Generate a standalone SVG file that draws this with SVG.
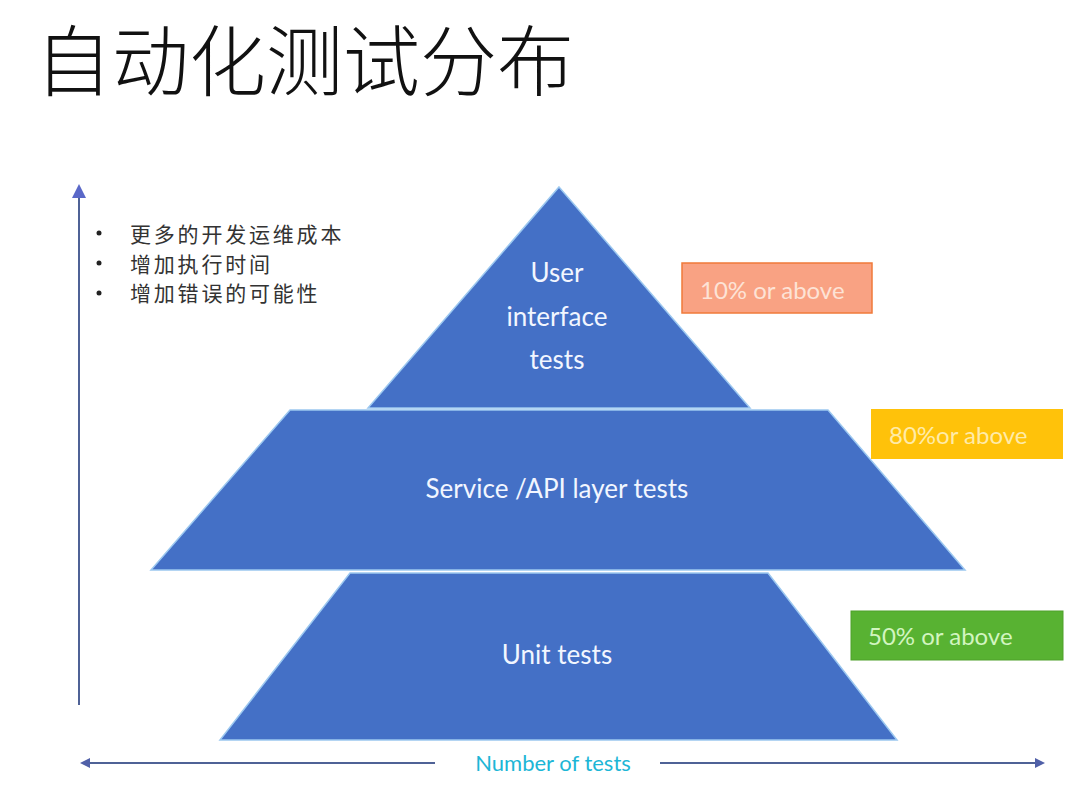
<svg xmlns="http://www.w3.org/2000/svg" width="1080" height="804" viewBox="0 0 1080 804">
<style>
.layer{fill:#4470C6;stroke:#9CC8F0;stroke-width:1.5}
.lt{font-family:Lato,"Open Sans","Liberation Sans",sans-serif;font-size:26px;fill:#F2F6FF;text-anchor:middle}
.bl{font-family:"Noto Sans CJK SC","Noto Sans",sans-serif;font-size:21px;letter-spacing:2.8px;fill:#333}
.bt{font-family:Lato,"Liberation Sans",sans-serif;font-size:24px}
.ax{stroke:#4F6296;stroke-width:2;fill:none}
</style>
<defs>
<marker id="ah" markerWidth="10" markerHeight="10" refX="8" refY="5" orient="auto-start-reverse" markerUnits="userSpaceOnUse">
<path d="M0,0 L10,5 L0,10 z" fill="#5060A8"/>
</marker>
<marker id="av" markerWidth="14" markerHeight="14" refX="12" refY="7" orient="auto" markerUnits="userSpaceOnUse">
<path d="M0,0 L14,7 L0,14 z" fill="#5A68C8"/>
</marker>
</defs>
<rect width="1080" height="804" fill="#fff"/>
<text x="35" y="90" font-family="Noto Sans CJK SC,sans-serif" font-size="77" font-weight="300" fill="#111">自动化测试分布</text>

<g id="connectors">
<line class="ax" x1="79" y1="705" x2="79" y2="186" marker-end="url(#av)"/>
<line class="ax" x1="435" y1="763" x2="82" y2="763" marker-end="url(#ah)"/>
<line class="ax" x1="660" y1="763" x2="1043" y2="763" marker-end="url(#ah)"/>
</g>

<g id="bullets">
<circle cx="99" cy="233" r="2.5" fill="#222"/>
<circle cx="99" cy="263" r="2.5" fill="#222"/>
<circle cx="99" cy="293" r="2.5" fill="#222"/>
<text class="bl" x="130" y="242">更多的开发运维成本</text>
<text class="bl" x="130" y="272">增加执行时间</text>
<text class="bl" x="130" y="301">增加错误的可能性</text>
</g>

<g id="ui-layer">
<polygon class="layer" points="559,187 750,408 368,408"/>
<text class="lt" x="557" y="282">User</text>
<text class="lt" x="557" y="326">interface</text>
<text class="lt" x="557" y="369">tests</text>
</g>
<g id="service-layer">
<polygon class="layer" points="290,410 828,410 965,570 151,570"/>
<text class="lt" x="557" y="498">Service /API layer tests</text>
</g>
<g id="unit-layer">
<polygon class="layer" points="350,573 768,573 897,740 220,740"/>
<text class="lt" x="557" y="664">Unit tests</text>
</g>

<g id="box-10">
<rect x="682" y="263" width="190" height="50" fill="#F9A283" stroke="#F07A3A" stroke-width="1.5"/>
<text class="bt" x="700" y="299" fill="#FDE3D6">10% or above</text>
</g>
<g id="box-80">
<rect x="871" y="409" width="192" height="50" fill="#FFC20A"/>
<text class="bt" x="889" y="444" fill="#FFEBA8">80%or above</text>
</g>
<g id="box-50">
<rect x="851" y="611" width="212" height="49" fill="#58B232" stroke="#4EA02A" stroke-width="1"/>
<text class="bt" x="868" y="645" fill="#D2F5C0">50% or above</text>
</g>

<text x="553" y="771" font-family="Lato,'Liberation Sans',sans-serif" font-size="22" fill="#1DB6D6" text-anchor="middle">Number of tests</text>
</svg>
